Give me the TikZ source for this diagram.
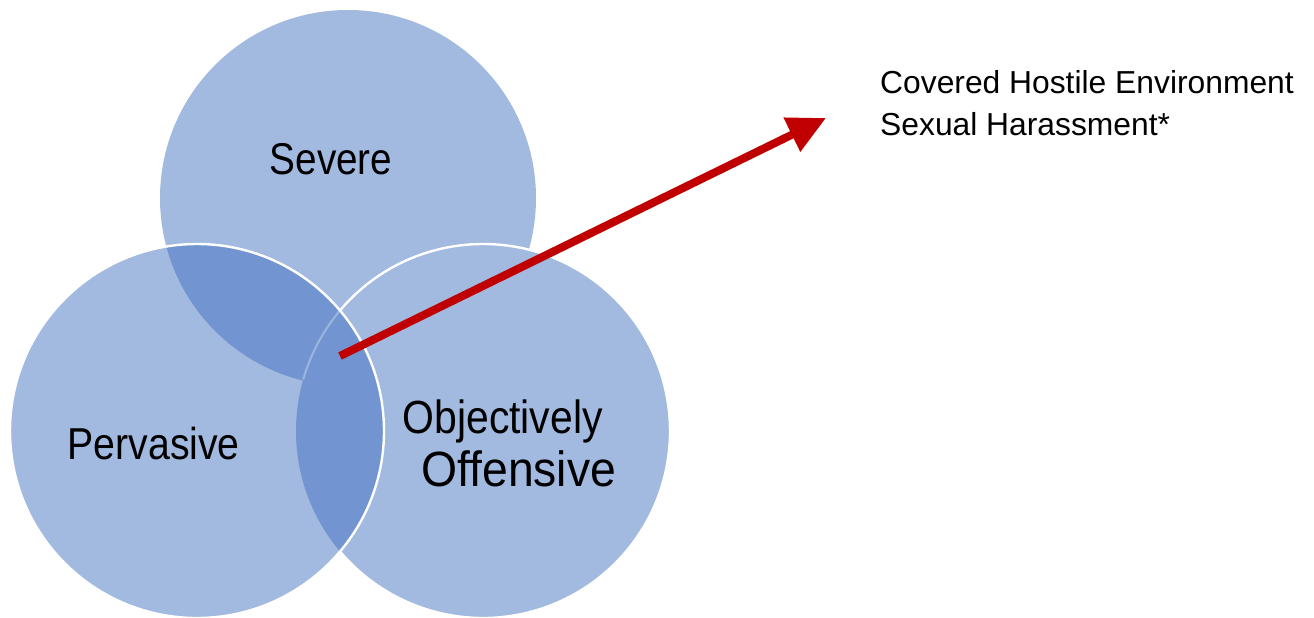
\documentclass[tikz,border=0pt]{standalone}
\usepackage{fontspec}
\setmainfont{Liberation Sans}
\usetikzlibrary{arrows.meta,calc}
\definecolor{vlight}{RGB}{162,185,224}
\definecolor{vdark}{RGB}{114,149,210}
\definecolor{vred}{RGB}{192,0,0}
\tikzset{
  rim/.style={draw=white, line width=2.4pt},
  lbl/.style={inner sep=0pt, anchor=base, text=black},
  note/.style={inner sep=0pt, anchor=base west, text=black, font=\fontsize{31.8}{38}\selectfont},
  redarrow/.style={draw=vred, line width=8pt, -{Triangle[length=38pt,width=36pt]}}
}
\begin{document}
\begin{tikzpicture}[x=1pt,y=-1pt]
\useasboundingbox (0,0) rectangle (1314,618);
\clip (0,0) rectangle (1314,618);
% circle centres
\coordinate (cS) at (348,198);
\coordinate (cP) at (197,431);
\coordinate (cO) at (483,431);
% base fills
\fill[vlight] (cS) circle[radius=188];
\fill[vlight] (cP) circle[radius=187];
\fill[vlight] (cO) circle[radius=187];
% overlaps
\begin{scope}
  \clip (cS) circle[radius=188];
  \fill[vdark] (cP) circle[radius=187];
\end{scope}
\begin{scope}
  \clip (cO) circle[radius=187];
  \fill[vdark] (cP) circle[radius=187];
\end{scope}
% outlines
\draw[rim] ($(cO)+(-140:187)$) arc[start angle=-140, end angle=140, radius=187];
\draw[draw=white, line width=2pt, opacity=0.3] ($(cO)+(-140:187)$) arc[start angle=-140, end angle=-164, radius=187];
\draw[rim] (cP) circle[radius=187];
% labels
\node[lbl, font=\fontsize{44.5}{50}\selectfont] (severe) at (331,174) {\scalebox{0.87}[1]{Severe}};
\node[lbl, font=\fontsize{44.7}{50}\selectfont] (pervasive) at (153.7,459) {\scalebox{0.877}[1]{Pervasive}};
\node[lbl, font=\fontsize{46.5}{52}\selectfont] (objectively) at (502.7,433.5) {\scalebox{0.88}[1]{Objectively}};
\node[lbl, font=\fontsize{49.5}{56}\selectfont] (offensive) at (518.7,486) {\scalebox{0.936}[1]{Offensive}};
% arrow
\coordinate (start) at (340,356);
\coordinate (tip) at (826,118);
\draw[redarrow] (start) -- (tip);
% note text
\node[note] (line1) at (880,93.5) {Covered Hostile Environment};
\node[note] (line2) at (880,135) {Sexual Harassment*};
\end{tikzpicture}
\end{document}
